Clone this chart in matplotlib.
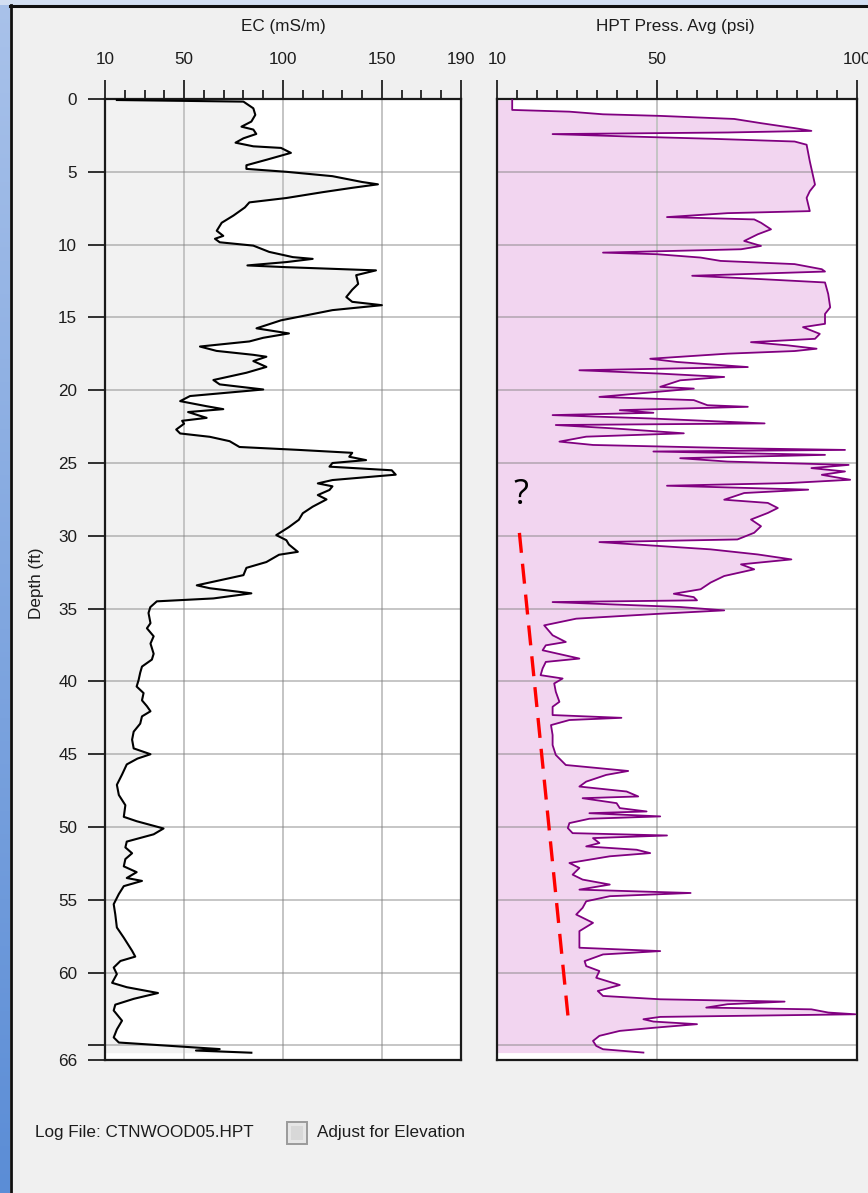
import numpy as np
import matplotlib
matplotlib.use("Agg")
import matplotlib.pyplot as plt
from matplotlib.patches import Rectangle
from matplotlib.lines import Line2D
from matplotlib.ticker import MultipleLocator, FixedLocator

plt.rcParams['font.family'] = ['Liberation Sans', 'DejaVu Sans']

# EC log (depth in ft, EC in mS/m)
ec_depth = [0.07, 0.18, 0.64, 1.09, 1.55, 1.9, 2.1, 2.4, 2.7, 3.0, 3.25, 3.36, 3.7, 4.16, 4.55, 4.8,
            5.0, 5.3, 5.7, 5.86, 6.1, 6.4, 6.8, 7.1, 7.45, 8.0, 8.5, 9.05, 9.4, 9.6, 9.84, 10.07,
            10.5, 10.86, 10.98, 11.2, 11.43, 11.55, 11.77, 12.1, 12.7, 13.1, 13.6, 13.93, 14.16, 14.5,
            15.2, 15.75, 16.1, 16.4, 16.65, 17.0, 17.3, 17.57, 17.7, 18.0, 18.4, 18.8, 19.3, 19.6,
            19.95, 20.4, 20.75, 21.1, 21.3, 21.5, 21.9, 22.1, 22.3, 22.7, 22.97, 23.2, 23.5, 23.9,
            24.1, 24.3, 24.57, 24.8, 25.0, 25.25, 25.5, 25.8, 26.17, 26.4, 26.6, 26.85, 27.2, 27.5,
            28.0, 28.45, 28.9, 29.4, 29.95, 30.3, 30.6, 31.1, 31.3, 31.8, 32.2, 32.7, 33.0, 33.4,
            33.6, 33.95, 34.3, 34.5, 34.9, 35.3, 36.0, 36.35, 36.9, 37.4, 38.1, 38.5, 38.98, 39.4,
            39.9, 40.35, 40.8, 41.3, 41.7, 42.05, 42.4, 42.9, 43.45, 44.0, 44.6, 45.0, 45.3, 45.7,
            46.4, 47.1, 47.8, 48.5, 49.3, 49.6, 50.1, 50.5, 51.0, 51.4, 51.8, 52.2, 52.7, 53.1,
            53.5, 53.7, 54.06, 54.6, 55.3, 56.0, 56.9, 57.6, 58.5, 58.9, 59.2, 59.65, 60.1, 60.7,
            61.0, 61.4, 61.8, 62.2, 62.6, 63.3, 63.9, 64.45, 64.8, 65.1, 65.25, 65.35, 65.5]
ec_value = [16, 80, 85, 86, 84, 79, 85, 86.5, 80, 76, 85, 99, 104, 92, 81.5, 81.5,
            101.7, 125, 140, 148, 135, 120, 101.7, 83, 80.7, 75, 69, 66.5, 69.8, 65.6, 68, 85,
            93, 105, 115, 101.7, 82, 101.7, 147, 137, 138, 135, 132, 135, 150, 125,
            99, 86.6, 103, 90, 83, 58, 66.4, 85, 91.6, 85, 91.6, 81.5, 64.8, 68,
            90, 53, 48, 61.4, 69.8, 52, 61.4, 49, 50, 46, 48, 63, 73, 78,
            108, 135, 133.5, 142, 125, 123.5, 155, 157, 125, 117.6, 125, 123.5, 117.6, 122,
            115, 110, 108, 103, 96.6, 101.7, 103, 107.5, 98, 91.6, 81.5, 80, 69.8, 56.4,
            63, 84, 64.8, 36.2, 32.9, 32, 33, 31.2, 34.6, 33, 34.6, 33.7, 28.7, 27.8,
            27, 26, 29.5, 28.7, 31.2, 33, 28.7, 27.8, 24.5, 23.7, 24.5, 33, 26.4, 21,
            18.6, 16, 17, 20.3, 19.5, 26, 39.6, 34.6, 21, 20.3, 23.7, 20.3, 19.5, 26,
            21, 28.7, 19.5, 17, 14.4, 15.2, 16, 19.5, 23.7, 25.3, 17.8, 14.4, 16, 13.6,
            21, 36.8, 24.5, 15.2, 14.4, 18.6, 16, 14.4, 17, 51, 68, 56, 84]

# HPT pressure log (depth in ft, pressure in psi)
hpt_depth = [0.07, 0.75, 0.87, 1.05, 1.16, 1.37, 1.66, 2.0, 2.19, 2.3, 2.41, 2.57, 2.73, 2.92, 3.14,
             4.28, 5.88, 6.33, 6.79, 7.24, 7.7, 7.84, 8.11, 8.27, 8.5, 8.95, 9.29, 9.75, 10.09,
             10.32, 10.55, 10.66, 10.89, 11.12, 11.34, 11.69, 11.85, 12.14, 12.37, 12.6, 13.39,
             14.31, 14.76, 15.44, 15.67, 16.13, 16.47, 16.7, 16.92, 17.15, 17.31, 17.49, 17.84,
             18.06, 18.41, 18.63, 18.86, 19.09, 19.32, 19.77, 19.89, 20.11, 20.46, 20.68, 21.03,
             21.14, 21.37, 21.55, 21.71, 21.94, 22.28, 22.39, 22.62, 22.96, 23.19, 23.53, 23.76,
             23.99, 24.1, 24.21, 24.44, 24.67, 24.9, 25.13, 25.35, 25.58, 25.81, 26.15, 26.38,
             26.56, 26.83, 27.06, 27.52, 27.74, 28.09, 28.43, 28.88, 29.34, 29.79, 30.25, 30.43,
             30.66, 30.93, 31.28, 31.62, 31.96, 32.3, 32.76, 33.21, 33.67, 33.98, 34.21, 34.43,
             34.55, 34.73, 34.89, 35.12, 35.35, 35.69, 36.15, 36.83, 37.29, 37.52, 37.86, 38.43,
             38.66, 39.11, 39.57, 39.8, 40.14, 40.71, 41.4, 41.74, 42.31, 42.5, 42.65, 43.0,
             43.68, 44.37, 45.05, 45.74, 45.96, 46.15, 46.42, 46.88, 47.22, 47.56, 47.9, 48.02,
             48.36, 48.7, 48.93, 49.05, 49.27, 49.43, 49.73, 50.07, 50.42, 50.58, 50.76, 51.1,
             51.33, 51.56, 51.79, 52.01, 52.47, 52.81, 53.27, 53.61, 53.95, 54.3, 54.53, 54.75,
             55.1, 55.55, 56.01, 56.58, 57.15, 58.29, 58.52, 58.75, 59.21, 59.55, 59.89, 60.35,
             60.85, 61.26, 61.6, 61.83, 61.99, 62.17, 62.4, 62.52, 62.74, 62.86, 63.04, 63.2,
             63.36, 63.54, 63.77, 64.0, 64.34, 64.69, 65.03, 65.26, 65.49]
hpt_value = [13.8, 13.8, 28.1, 36.5, 50.8, 69.3, 76.0, 84.4, 88.6, 67.6, 23.9, 42.4, 63.4, 84.4, 87.4,
             88.2, 89.5, 88.2, 87.4, 87.8, 88.2, 67.6, 52.5, 74.3, 76.0, 78.5, 75.2, 71.8, 76.0,
             71.0, 36.5, 50.0, 60.9, 65.9, 84.4, 91.2, 92.0, 58.8, 76.0, 92.0, 92.8,
             93.3, 92.0, 92.0, 86.5, 90.7, 89.5, 73.5, 82.7, 89.9, 84.4, 67.6, 48.3,
             55.0, 72.7, 30.6, 50.8, 66.8, 55.8, 50.8, 59.2, 50.0, 35.6, 59.2, 62.6,
             72.7, 40.7, 49.1, 23.9, 48.3, 76.9, 24.7, 39.0, 56.7, 32.3, 25.6, 34.0,
             71.0, 97.0, 49.1, 92.0, 55.8, 67.6, 97.9, 88.6, 97.0, 91.2, 98.3, 82.7,
             52.5, 87.8, 71.8, 66.8, 77.7, 80.2, 77.7, 73.5, 76.0, 74.3, 70.1, 35.6,
             48.3, 63.4, 75.2, 83.6, 71.0, 74.3, 66.8, 63.4, 60.9, 54.2, 59.2, 60.0,
             23.9, 40.7, 55.8, 66.8, 50.8, 29.8, 21.8, 23.9, 27.2, 22.2, 21.4, 30.6,
             22.2, 21.4, 20.9, 26.4, 24.3, 24.7, 25.6, 23.9, 23.9, 41.1, 28.1, 23.5,
             23.9, 23.9, 24.7, 27.2, 35.6, 42.8, 37.3, 32.3, 30.6, 42.4, 45.3, 31.4,
             39.9, 40.7, 47.4, 33.1, 50.8, 33.1, 28.1, 27.7, 28.9, 52.5, 34.0, 35.6,
             32.3, 44.9, 48.3, 38.2, 28.1, 30.6, 28.9, 31.4, 38.2, 30.6, 58.4, 38.2,
             32.3, 31.4, 29.8, 34.0, 30.6, 30.6, 50.8, 36.5, 31.9, 32.3, 35.6, 34.8,
             40.7, 35.2, 36.5, 50.8, 81.9, 67.6, 62.3, 88.6, 92.8, 99.6, 50.8, 46.6,
             49.1, 60.0, 49.9, 40.7, 35.6, 34.0, 34.8, 36.5, 46.6]

# Interpreted trend line drawn on the HPT track
trend_x = [15.6, 27.9]
trend_depth = [29.8, 63.4]

depth_ticks = [0, 5, 10, 15, 20, 25, 30, 35, 40, 45, 50, 55, 60, 65, 66]
depth_labels = ['0', '5', '10', '15', '20', '25', '30', '35', '40', '45', '50', '55', '60', '', '66']
depth_grid = [5, 10, 15, 20, 25, 30, 35, 40, 45, 50, 55, 60, 65]
ec_ticks = [10, 50, 100, 150, 190]
hpt_ticks = [10, 50, 100]

W, H = 868, 1193
BG = '#f0f0f0'
TXT = '#1c1c1c'
GRID = '#c4c4c4'
FS = 12.3

fig = plt.figure(figsize=(W / 100, H / 100), dpi=100, facecolor=BG)


def fx(px):
    return px / W


def fy(py):
    return 1 - py / H


# window frame: blue strip on the left, light strip on top, dark edges
strip = fig.add_axes([0, 0, fx(10), 1])
grad = np.linspace(0, 1, 256).reshape(-1, 1)
strip.imshow(grad, aspect='auto', cmap=matplotlib.colors.LinearSegmentedColormap.from_list(
    'frame', ['#a9c2ea', '#5b8dd6']), extent=[0, 1, 1, 0])
strip.axis('off')
fig.patches.append(Rectangle((0, fy(5)), 1, 5 / H, transform=fig.transFigure,
                             facecolor='#d3dff2', edgecolor='none'))
fig.lines.append(Line2D([fx(10.5), fx(10.5)], [0, fy(5)], transform=fig.transFigure,
                        color='#101010', lw=2))
fig.lines.append(Line2D([fx(10), 1], [fy(5.5), fy(5.5)], transform=fig.transFigure,
                        color='#101010', lw=2.2))


def setup_track(ax, xmin, xmax, majors, minor_step, vgrid):
    ax.set_facecolor('white')
    ax.set_xlim(xmin, xmax)
    ax.set_ylim(66, 0)
    ax.xaxis.tick_top()
    ax.xaxis.set_major_locator(FixedLocator(majors))
    ax.xaxis.set_minor_locator(MultipleLocator(minor_step))
    ax.tick_params(axis='x', which='major', direction='out', length=14, width=1.3,
                   pad=9, labelsize=FS, labelcolor=TXT, color='#202020')
    ax.tick_params(axis='x', which='minor', direction='out', length=6.5, width=1.3,
                   color='#202020')
    for x in vgrid:
        ax.axvline(x, color=GRID, lw=1.4, zorder=1.5)
    for d in depth_grid:
        ax.axhline(d, color='#808080', alpha=0.45, lw=1.4, zorder=1.5)
    for s in ax.spines.values():
        s.set_linewidth(1.6)
        s.set_color('#1a1a1a')
    ax.set_xticks(majors)
    ax.set_xticklabels([str(m) for m in majors])


# EC track
ax1 = fig.add_axes([fx(105), fy(1060), fx(461 - 105), (1060 - 99) / H])
setup_track(ax1, 10, 190, ec_ticks, 10, [50, 100, 150])
ax1.fill_betweenx(ec_depth, 10, ec_value, color='#f2f2f2', lw=0, zorder=1)
ax1.plot(ec_value, ec_depth, color='black', lw=1.5, zorder=3)
ax1.yaxis.set_major_locator(FixedLocator(depth_ticks))
ax1.set_yticklabels(depth_labels)
ax1.tick_params(axis='y', direction='out', length=12, width=1.3, pad=8,
                labelsize=FS, labelcolor=TXT, color='#202020')

# HPT track
ax2 = fig.add_axes([fx(497), fy(1060), fx(857 - 497), (1060 - 99) / H])
setup_track(ax2, 10, 100, hpt_ticks, 5, [50])
ax2.fill_betweenx(hpt_depth, 10, hpt_value, color='#f2d5f0', lw=0, zorder=1)
ax2.plot(hpt_value, hpt_depth, color='#800080', lw=1.3, zorder=3)
ax2.plot(trend_x, trend_depth, color='#ff0000', lw=2.4, dashes=(6, 3.3),
         solid_capstyle='butt', dash_capstyle='butt', zorder=4)
ax2.text(16.0, 27.2, '?', fontsize=25, family=['Open Sans', 'DejaVu Sans'],
         ha='center', va='center', color='black', zorder=5)
ax2.set_yticks([])

# labels and captions
fig.text(fx(283), fy(27), 'EC (mS/m)', ha='center', va='center', fontsize=FS, color=TXT)
fig.text(fx(675), fy(27), 'HPT Press. Avg (psi)', ha='center', va='center', fontsize=FS, color=TXT)
fig.text(fx(37), fy(583), 'Depth (ft)', ha='center', va='center', rotation=90,
         fontsize=FS, color=TXT)
fig.text(fx(35), fy(1133), 'Log File: CTNWOOD05.HPT', ha='left', va='center',
         fontsize=FS, color=TXT)
fig.patches.append(Rectangle((fx(287), fy(1144)), 20 / W, 22 / H, transform=fig.transFigure,
                             facecolor='#e6e6e6', edgecolor='#9a9a9a', lw=1.4))
fig.patches.append(Rectangle((fx(291), fy(1140)), 12 / W, 14 / H, transform=fig.transFigure,
                             facecolor='#d8d8d8', edgecolor='none'))
fig.text(fx(317), fy(1133), 'Adjust for Elevation', ha='left', va='center',
         fontsize=FS, color=TXT)

fig.savefig('out.png', dpi=100, facecolor=BG)
